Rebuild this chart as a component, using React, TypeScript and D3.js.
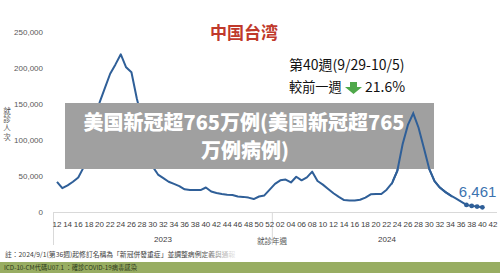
import React from "react";
import * as d3 from "d3";

const weeks2023 = d3.range(12, 53);
const values2023 = [
  42000, 33000, 37000, 42000, 48000, 62000, 80000, 110000, 152000, 172000,
  192000, 205000, 219000, 201000, 194000, 158000, 128000, 92000, 63000, 52000,
  47000, 42000, 39000, 36000, 31500, 30500, 30500, 30500, 34000, 28500,
  26500, 25000, 24000, 23500, 21500, 21000, 20000, 18000, 21500, 23000, 31000,
];
const weeks2024 = d3.range(1, 43);
const values2024 = [
  39000, 44000, 45000, 41000, 49000, 44000, 48000, 56000, 43000, 38000,
  32000, 26000, 21000, 16500, 16000, 16000, 17000, 20000, 24500, 25000,
  25000, 31000, 40000, 57000, 94000, 121000, 137000, 117000, 89000, 60000,
  43000, 34000, 28000, 23000, 19000, 14500, 9800, 8500, 7600, 6461,
];
const markedWeeks2024 = [37, 38, 39, 40];
const yTicks = [0, 50000, 100000, 150000, 200000, 250000];
const years = ["2023", "2024"];
const yTitle = "就診人次";

type Pt = { key: string; year: number; week: number; value: number | null };

const categories: Pt[] = [
  ...weeks2023.map((w, i) => ({ key: `2023-${w}`, year: 2023, week: w, value: values2023[i] })),
  ...weeks2024.map((w, i) => ({
    key: `2024-${w}`,
    year: 2024,
    week: w,
    value: i < values2024.length ? values2024[i] : null,
  })),
];

export default function App() {
  const W = 500;
  const H = 273;
  const x = d3.scalePoint<string>().domain(categories.map((c) => c.key)).range([57, 493]);
  const y = d3.scaleLinear().domain([0, 250000]).range([212, 32]);
  const fmt = d3.format(",");
  const withData = categories.filter((c) => c.value !== null);
  const line = d3
    .line<Pt>()
    .x((d) => x(d.key) as number)
    .y((d) => y(d.value as number));
  const path = line(withData) || "";
  const marked = withData.filter((d) => d.year === 2024 && markedWeeks2024.includes(d.week));
  const last = withData[withData.length - 1];
  const sepX = ((x("2023-52") as number) + (x("2024-1") as number)) / 2;
  const tickFont = "'Liberation Sans', Arial, sans-serif";
  const cjk = "'Noto Sans CJK TC', 'Noto Sans CJK SC', sans-serif";
  const lineColor = "#2f5f98";

  return (
    <svg width={W} height={H} style={{ position: "absolute", left: 0, top: 0, background: "#fff" }}>
      <defs>
        <clipPath id="peakClip">
          <rect x={392} y={0} width={60} height={273} />
        </clipPath>
        <linearGradient id="fadeNote" x1="0" x2="1" y1="0" y2="0">
          <stop offset="0" stopColor="#fff" stopOpacity={0} />
          <stop offset="0.3" stopColor="#fff" stopOpacity={0.85} />
          <stop offset="1" stopColor="#fff" stopOpacity={1} />
        </linearGradient>
      </defs>
      <rect x={0} y={0} width={W} height={H} fill="#fff" />

      {/* Title */}
      <text x={210} y={39} fontFamily={cjk} fontWeight={700} fontSize={17} fill="#c0392b">
        中国台湾
      </text>
      <text x={289} y={70} fontFamily={cjk} fontSize={14} fill="#111">
        第40週(9/29-10/5)
      </text>
      <text x={289} y={92} fontFamily={cjk} fontSize={13.2} fill="#111">
        較前一週
      </text>
      <path d="M350,82 h7 v5 h5 l-8.5,7 l-8.5,-7 h5 z" fill="#4fa84a" />
      <text x={365} y={92} fontFamily={cjk} fontSize={14} fill="#111">
        21.6%
      </text>

      {/* Y axis */}
      {yTicks.map((t) => (
        <text
          key={t}
          x={43}
          y={y(t) + 3}
          textAnchor="end"
          fontFamily={tickFont}
          fontSize={8}
          fill="#595959"
        >
          {fmt(t)}
        </text>
      ))}
      <text
        x={7}
        y={107}
        fontFamily={cjk}
        fontSize={7.5}
        fill="#595959"
        style={{ writingMode: "vertical-rl" as any, letterSpacing: "1.2px" }}
      >
        {yTitle}
      </text>

      {/* X axis */}
      <line x1={53} x2={497} y1={212.5} y2={212.5} stroke="#d9d9d9" strokeWidth={1} />
      <line x1={53.5} x2={53.5} y1={212} y2={245} stroke="#d9d9d9" strokeWidth={1} />
      <line x1={sepX} x2={sepX} y1={212} y2={245} stroke="#d9d9d9" strokeWidth={1} />
      {categories
        .filter((c) => c.week % 2 === 0)
        .map((c) => (
          <text
            key={c.key}
            x={x(c.key) as number}
            y={227}
            textAnchor="middle"
            fontFamily={tickFont}
            fontSize={8}
            fill="#404040"
          >
            {String(c.week).padStart(2, "0")}
          </text>
        ))}
      <text x={163} y={242} textAnchor="middle" fontFamily={tickFont} fontSize={8} fill="#404040">
        {years[0]}
      </text>
      <text x={387} y={242} textAnchor="middle" fontFamily={tickFont} fontSize={8} fill="#404040">
        {years[1]}
      </text>
      <text x={257} y={244} fontFamily={cjk} fontSize={7.5} fill="#595959">
        就診年週
      </text>

      {/* Line */}
      <path d={path} fill="none" stroke={lineColor} strokeWidth={2} strokeLinejoin="round" />
      {marked.map((d) => (
        <circle key={d.key} cx={x(d.key) as number} cy={y(d.value as number)} r={2.4} fill={lineColor} />
      ))}
      <text
        x={(x(last.key) as number) + 14}
        y={y(last.value as number) - 10}
        textAnchor="end"
        fontFamily={tickFont}
        fontSize={15}
        fill="#3b73b0"
      >
        {fmt(last.value as number)}
      </text>

      {/* Overlay banner */}
      <rect x={65} y={103} width={369} height={66} fill="#a0a0a0" />
      <path d={path} fill="none" stroke={lineColor} strokeWidth={2} clipPath="url(#peakClip)" />
      <text
        x={244}
        y={130}
        textAnchor="middle"
        fontFamily={cjk}
        fontWeight={900}
        fontSize={20}
        fill="#fff"
      >
        美国新冠超765万例(美国新冠超765
      </text>
      <text
        x={245}
        y={158}
        textAnchor="middle"
        fontFamily={cjk}
        fontWeight={900}
        fontSize={20}
        fill="#fff"
      >
        万例病例)
      </text>

      {/* Footer */}
      <text x={5} y={257} fontFamily={cjk} fontSize={6.8} fill="#404040">
        註：2024/9/1(第36週)起修訂名稱為「新冠併發重症」並調整病例定義與通報
      </text>
      <rect x={200} y={248} width={110} height={13} fill="url(#fadeNote)" />
      <rect x={0} y={262} width={W} height={11} fill="#98ad62" />
      <text x={4} y={270} fontFamily={cjk} fontSize={6.3} fill="#2e3a1a">
        ICD-10-CM代碼U07.1 ：確診COVID-19病毒感染
      </text>
    </svg>
  );
}
